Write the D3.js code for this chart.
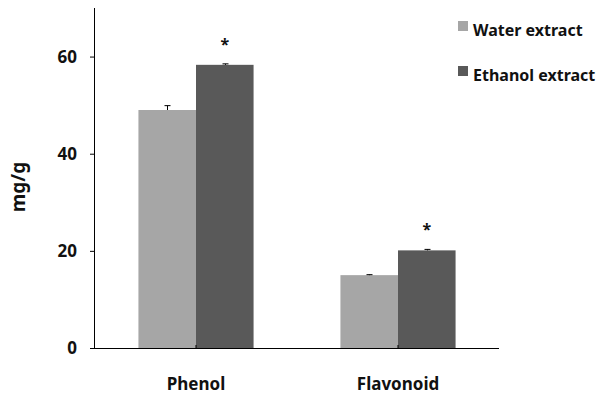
<!DOCTYPE html>
<html><head><meta charset="utf-8">
<script src="https://cdn.jsdelivr.net/npm/d3@7/dist/d3.min.js"></script>
<style>body{margin:0;background:#fff}svg{display:block;font-family:"Noto Sans","Open Sans",sans-serif;font-weight:bold}</style>
</head><body><svg id="c" width="597" height="395"></svg>
<script>
const categories = ["Phenol", "Flavonoid"];
const seriesNames = ["Water extract", "Ethanol extract"];
const waterValues = [49.0, 15.0];
const ethanolValues = [58.3, 20.1];
const waterErrors = [0.9, 0.1];
const ethanolErrors = [0.2, 0.2];
const significant = [true, true];
const yTicks = [0, 20, 40, 60];
const colors = ["#a6a6a6", "#595959"];

const svg = d3.select("#c");
const mLeft = 95, mRight = 499, mTop = 8, mBottom = 348;
const x = d3.scaleBand().domain(categories).range([mLeft, mRight]).paddingInner(0.43).paddingOuter(0.215);
const y = d3.scaleLinear().domain([0, 70]).range([mBottom, mTop]);
const xs = d3.scaleBand().domain([0,1]).range([0, x.bandwidth()]);

const series = [waterValues, ethanolValues];
const errs = [waterErrors, ethanolErrors];

series.forEach((vals, si) => {
  svg.append("g").selectAll("rect").data(categories).join("rect")
    .attr("x", d => x(d) + xs(si)).attr("width", xs.bandwidth())
    .attr("y", (d,i) => y(vals[i])).attr("height", (d,i) => y(0) - y(vals[i]))
    .attr("fill", colors[si]);
  const g = svg.append("g").attr("stroke", "#000").attr("stroke-width", 1);
  categories.forEach((c, i) => {
    const cx = Math.round(x(c) + xs(si) + xs.bandwidth()/2) + 0.5;
    const yt = y(vals[i] + errs[si][i]);
    g.append("line").attr("x1", cx).attr("x2", cx).attr("y1", y(vals[i])).attr("y2", yt);
    g.append("line").attr("x1", cx - 3).attr("x2", cx + 3).attr("y1", yt).attr("y2", yt);
  });
});

// significance stars
categories.forEach((c, i) => {
  if (!significant[i]) return;
  const cx = x(c) + xs(1) + xs.bandwidth()/2;
  svg.append("text").attr("x", cx).attr("y", y(ethanolValues[i] + ethanolErrors[i]) - 14)
    .attr("text-anchor", "middle").attr("font-size", 16).attr("font-weight", "bold").attr("fill", "#111").text("*");
});

// y axis
const yAxis = svg.append("g").attr("transform", `translate(${mLeft},0)`)
  .call(d3.axisLeft(y).tickValues(yTicks).tickSize(5).tickPadding(13));
yAxis.select(".domain").attr("d", `M-0.5,${mTop}V${mBottom}`).attr("stroke", "#000");
yAxis.selectAll(".tick line").attr("stroke", "#000");
yAxis.selectAll("text").attr("font-size", 17).attr("font-weight", "bold").attr("fill", "#111")
  .attr("font-family", "Noto Sans");

// x axis
const xAxis = svg.append("g").attr("transform", `translate(0,${mBottom})`)
  .call(d3.axisBottom(x).tickSize(-3).tickPadding(30));
xAxis.select(".domain").attr("d", `M${mLeft},0.5H${mRight}`).attr("stroke", "#000");
xAxis.selectAll(".tick line").attr("stroke", "#000");
xAxis.selectAll("text").attr("font-size", 17).attr("font-weight", "bold").attr("fill", "#111")
  .attr("font-family", "Noto Sans");

// y label
svg.append("text").attr("transform", "translate(25,187) rotate(-90)")
  .attr("text-anchor", "middle").attr("font-size", 19).attr("fill", "#111").text("mg/g");

// legend
const leg = svg.append("g");
seriesNames.forEach((n, i) => {
  const ly = 21 + i * 45;
  leg.append("rect").attr("x", 458).attr("y", ly).attr("width", 10).attr("height", 10).attr("fill", colors[i]);
  leg.append("text").attr("x", 473).attr("y", ly + 15).attr("font-size", 16).attr("fill", "#111").text(n);
});
</script></body></html>
